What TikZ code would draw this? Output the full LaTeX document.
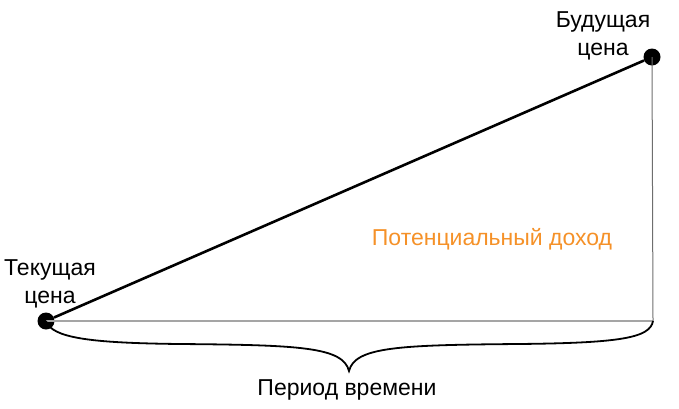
\documentclass[tikz,border=0pt]{standalone}
\usepackage{fontspec}
\setmainfont{Liberation Sans}
\usepackage{tikz}
\usetikzlibrary{positioning}
\definecolor{incomeorange}{RGB}{245,145,40}
\definecolor{basegray}{RGB}{165,165,165}
\definecolor{sidegray}{RGB}{110,110,110}

\begin{document}
\begin{tikzpicture}[
    x=1pt,
    y=-1pt,
    pricedot/.style={
        circle,
        fill=black,
        minimum size=17pt,
        inner sep=0pt
    },
    label/.style={
        align=center,
        inner sep=0pt,
        font=\fontsize{23}{28}\selectfont
    },
    trendline/.style={
        line width=2.6pt,
        draw=black
    },
    braceline/.style={
        line width=1.8pt,
        draw=black
    }
]

\useasboundingbox (0,0) rectangle (679,408);

\node[pricedot] (current) at (46,321) {};
\node[pricedot] (future) at (652,57) {};
\coordinate (corner) at (653,321);
\coordinate (tip) at (349,371);

\node[label, anchor=base] (curtext) at (50,303) {Текущая\\цена};
\node[label, anchor=base] (futtext) at (603,55) {Будущая\\цена};

\node[
    label,
    anchor=base,
    text=incomeorange
] (income) at (492,245) {Потенциальный доход};

\node[
    label,
    anchor=base
] (period) at (347,395) {Период времени};

\draw[draw=basegray, line width=1.3pt] (current.center) -- (corner);
\draw[draw=sidegray, line width=1pt] (future.center) -- (corner);
\draw[trendline] (current) -- (future);

\draw[braceline] (current.center)
    .. controls (52,338) and (90,343) .. (180,344)
    .. controls (300,345) and (343,347) .. (tip)
    .. controls (355,347) and (398,345) .. (518,344)
    .. controls (620,343) and (650,338) .. (corner);

\end{tikzpicture}
\end{document}
